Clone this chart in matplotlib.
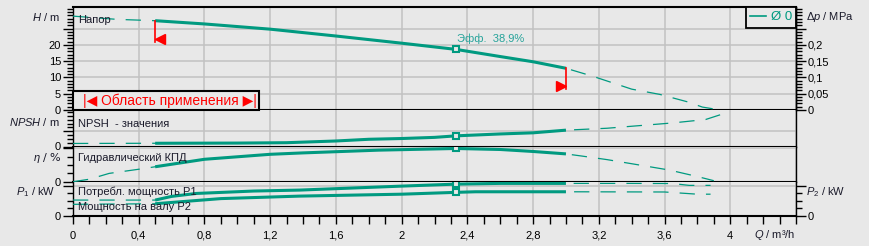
import numpy as np
import matplotlib
matplotlib.use('Agg')
import matplotlib.pyplot as plt
import matplotlib.transforms as mtrans
from matplotlib.lines import Line2D
from matplotlib.patches import Rectangle
from matplotlib.ticker import MultipleLocator

# ---------------- data ----------------
q_head = [0, 0.27, 0.5, 0.8, 1.2, 1.6, 2.0, 2.33, 2.6, 2.8, 3.0, 3.16, 3.4, 3.57, 3.74, 3.83, 3.94]
head_m = [28.8, 27.8, 27.4, 26.4, 24.8, 22.7, 20.5, 18.6, 16.4, 14.8, 12.8, 10.4, 6.4, 4.8, 2.5, 0.9, 0.0]

q_npsh = [0, 0.5, 1.0, 1.3, 1.6, 1.8, 2.0, 2.2, 2.33, 2.6, 2.8, 3.0, 3.25, 3.45, 3.65, 3.85, 3.95]
npsh_m = [0.8, 0.85, 0.9, 1.0, 1.45, 1.9, 2.1, 2.4, 2.8, 3.3, 3.6, 4.3, 4.8, 5.5, 6.2, 7.1, 8.5]

q_eta = [0, 0.1, 0.22, 0.4, 0.5, 0.8, 1.0, 1.2, 1.4, 1.86, 2.33, 2.6, 2.8, 3.0, 3.1, 3.25, 3.45, 3.63, 3.8, 3.9]
eta_pct = [0, 3, 10, 15, 18, 27, 30, 33, 34.7, 38, 40, 38.8, 36.4, 33.5, 30.8, 26.6, 20, 14, 6.2, 1.2]

q_p1 = [0, 0.5, 0.6, 0.75, 1.1, 1.38, 2.0, 2.33, 2.6, 3.0, 3.4, 3.65, 3.75, 3.88]
p1_kw = [0.21, 0.21, 0.26, 0.30, 0.333, 0.346, 0.40, 0.427, 0.437, 0.437, 0.437, 0.435, 0.41, 0.41]

q_p2 = [0, 0.5, 0.9, 1.38, 2.0, 2.33, 2.45, 3.0, 3.6, 3.8, 3.88]
p2_kw = [0.152, 0.16, 0.23, 0.264, 0.29, 0.315, 0.323, 0.323, 0.32, 0.29, 0.29]

range_q = [0.5, 3.0]
op_q = 2.33
op_head, op_npsh, op_eta, op_p1, op_p2 = 18.6, 2.8, 40.0, 0.427, 0.315
eff_label = 'Эфф.  38,9%'
legend_label = 'Ø 0'

q_ticks = [0, 0.4, 0.8, 1.2, 1.6, 2.0, 2.4, 2.8, 3.2, 3.6, 4.0, 4.4]
q_tick_labels = ['0', '0,4', '0,8', '1,2', '1,6', '2', '2,4', '2,8', '3,2', '3,6', '4', '']
h_ticks = [0, 5, 10, 15, 20, 25]
h_tick_labels = ['0', '5', '10', '15', '20', '']
dp_ticks = [0, 0.05, 0.1, 0.15, 0.2, 0.25]
dp_tick_labels = ['0', '0,05', '0,1', '0,15', '0,2', '']

# ---------------- style ----------------
plt.rcParams['font.family'] = ['Liberation Sans', 'DejaVu Sans']
plt.rcParams['mathtext.fontset'] = 'custom'
plt.rcParams['mathtext.rm'] = 'Liberation Sans'
plt.rcParams['mathtext.it'] = 'Liberation Sans:italic'
plt.rcParams['lines.scale_dashes'] = False

BG = '#E8E8E8'
GRID = '#C2C2C2'
TEAL = '#009A80'
TXT = '#1a1a2a'
FS = 8

W, HPX = 869, 246
fig = plt.figure(figsize=(W / 100, HPX / 100), dpi=100, facecolor=BG)


def rect(x0, y0, x1, y1):
    return [x0 / W, 1 - y1 / HPX, (x1 - x0) / W, (y1 - y0) / HPX]


def ftext(px, py, s, **kw):
    kw.setdefault('fontsize', FS)
    kw.setdefault('color', TXT)
    kw.setdefault('va', 'center')
    return fig.text(px / W, 1 - py / HPX, s, **kw)


XL, XR = 73, 796
ax_h = fig.add_axes(rect(XL, 7, XR, 110))
ax_n = fig.add_axes(rect(XL, 110, XR, 146.5))
ax_e = fig.add_axes(rect(XL, 146.5, XR, 181.7))
ax_p = fig.add_axes(rect(XL, 181.7, XR, 215.5))
axes = [ax_h, ax_n, ax_e, ax_p]

ylims = [(0, 31.6), (0, 9.6), (0, 42.4), (0, 0.46)]
yt = [h_ticks, [0, 4], [0, 40], [0, 0.4]]
ytl = [h_tick_labels, ['0', ''], ['0', ''], ['0', '']]
yminor = [1, 1, 10, 0.1]

for i, ax in enumerate(axes):
    ax.set_facecolor(BG)
    ax.set_xlim(0, 4.4)
    ax.set_ylim(*ylims[i])
    ax.set_xticks(q_ticks)
    ax.set_yticks(yt[i])
    ax.set_yticklabels(ytl[i], fontsize=FS)
    ax.yaxis.set_minor_locator(MultipleLocator(yminor[i]))
    ax.grid(True, which='major', color=GRID, lw=1.1, zorder=0)
    ax.set_axisbelow(True)
    for s in ['left', 'right']:
        ax.spines[s].set_color('black')
        ax.spines[s].set_linewidth(1.0)
    ax.spines['bottom'].set_color('black')
    ax.spines['bottom'].set_linewidth(1.5)
    ax.spines['top'].set_visible(i == 0)
    ax.spines['top'].set_linewidth(1.5)
    ax.tick_params(axis='y', which='major', direction='out', length=7, width=1, pad=1.5, colors='black')
    ax.tick_params(axis='y', which='minor', direction='out', length=4, width=1)
    if i != 3:
        ax.tick_params(axis='x', which='both', length=0, labelbottom=False)

# bottom x-axis
ax_p.set_xticklabels(q_tick_labels, fontsize=FS)
ax_p.xaxis.set_minor_locator(MultipleLocator(0.1))
ax_p.tick_params(axis='x', which='both', direction='out', length=6, width=1, pad=5)
ax_p.tick_params(axis='y', which='both', right=True, labelright=True)

# pressure twin axis
ax_dp = ax_h.twinx()
ax_dp.set_ylim(0, 0.316)
ax_dp.set_yticks(dp_ticks)
ax_dp.set_yticklabels(dp_tick_labels, fontsize=FS)
ax_dp.yaxis.set_minor_locator(MultipleLocator(0.01))
ax_dp.tick_params(axis='y', which='major', direction='out', length=7, width=1, pad=1.5)
ax_dp.tick_params(axis='y', which='minor', direction='out', length=4, width=1)
for s in ['left', 'top', 'bottom']:
    ax_dp.spines[s].set_visible(False)
ax_dp.spines['right'].set_linewidth(1.0)


def draw_curve(ax, q, v):
    q = np.asarray(q, float)
    v = np.asarray(v, float)
    ax.plot(q, v, color=TEAL, lw=0.9, dashes=(11, 8), zorder=3)
    m = (q >= range_q[0]) & (q <= range_q[1])
    ax.plot(q[m], v[m], color=TEAL, lw=2.2, solid_capstyle='butt', zorder=4)


draw_curve(ax_h, q_head, head_m)
draw_curve(ax_n, q_npsh, npsh_m)
draw_curve(ax_e, q_eta, eta_pct)
draw_curve(ax_p, q_p1, p1_kw)
draw_curve(ax_p, q_p2, p2_kw)

mk = dict(marker='s', ms=5, mfc=BG, mec=TEAL, mew=1.5, ls='none', zorder=6)
ax_h.plot([op_q], [op_head], **mk)
ax_n.plot([op_q], [op_npsh], **mk)
ax_e.plot([op_q], [op_eta], **mk)
ax_p.plot([op_q], [op_p1], **mk)
ax_p.plot([op_q], [op_p2], **mk)

ax_h.annotate(eff_label, (op_q, op_head), xytext=(1, 5), textcoords='offset pixels',
              fontsize=FS, color='#26A39A', ha='left', va='bottom', zorder=7)

# operating range flags
px_per_m = 103 / 31.6
drop = 21 / px_per_m
for qe, mkr, dx in [(range_q[0], '<', 5), (range_q[1], '>', -5)]:
    he = np.interp(qe, q_head, head_m)
    ax_h.plot([qe, qe], [he, he - drop], color='red', lw=1.2, zorder=5)
    tr = ax_h.transData + mtrans.ScaledTranslation(dx / 100, -18 / 100, fig.dpi_scale_trans)
    ax_h.plot([qe], [he], marker=mkr, ms=6.5, color='red', mec='red', ls='none',
              transform=tr, zorder=5)

# legend box
leg = ax_h.legend(handles=[Line2D([], [], color=TEAL, lw=1.2)], labels=[legend_label],
                  loc='upper right', bbox_to_anchor=(1, 1), borderaxespad=0,
                  frameon=True, fancybox=False, framealpha=1, facecolor=BG,
                  edgecolor='black', fontsize=9.5, handlelength=1.2, handletextpad=0.35,
                  borderpad=0.32, labelcolor=TEAL)
leg.get_frame().set_linewidth(1.3)
leg.set_zorder(10)

# application range box
box = Rectangle((XL / W, 1 - 110 / HPX), (259 - XL) / W, 19 / HPX, transform=fig.transFigure,
                facecolor=BG, edgecolor='black', lw=1.5, zorder=8)
fig.patches.append(box)
ftext(170, 100.7, '|◀ Область применения ▶|', ha='center', color='red', fontsize=10,
      family=['Liberation Sans', 'DejaVu Sans'], zorder=9)

# texts in panels
ftext(78, 20, 'Напор')
ftext(78, 124, 'NPSH  - значения')
ftext(78, 158, 'Гидравлический КПД')
ftext(78, 192, 'Потребл. мощность P1')
ftext(78, 206.5, 'Мощность на валу P2')

# axis labels
ftext(60, 17, r'$\it{H}$ / m', ha='right')
ftext(60, 122, r'$\it{NPSH}$ / m', ha='right')
ftext(62, 158, r'$\it{\eta}$ / %', ha='right', family=['DejaVu Sans'])
ftext(55, 192, r'$\it{P}_{1}$ / kW', ha='right')
ftext(806, 17, r'$\Delta\it{p}$ / MPa', ha='left')
ftext(806, 192, r'$\it{P}_{2}$ / kW', ha='left')
ftext(795, 235, r'$\it{Q}$ / m³/h', ha='right')

fig.savefig('out.png', dpi=100, facecolor=BG)
